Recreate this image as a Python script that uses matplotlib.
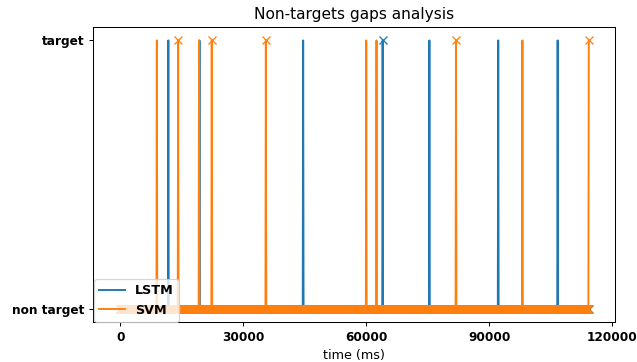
import numpy as np
import matplotlib
matplotlib.use("Agg")
import matplotlib.pyplot as plt

# sample timestamps (ms)
t_start, t_end, t_step = 0, 114300, 100

series_names = ["LSTM", "SVM"]
series_colors = ["#1f77b4", "#ff7f0e"]

# predicted target times (ms)
lstm_pred = [11700, 19350, 44600, 64050, 75400, 92250, 106750]
svm_pred = [8950, 14100, 19250, 22350, 35550, 60050, 62500, 81900, 98150, 114300]
# true target times (ms)
lstm_true = [64050]
svm_true = [14100, 22350, 35550, 81900, 114300]

ytick_labels = ["non target", "target"]
xticks = [0, 30000, 60000, 90000, 120000]

t = np.arange(t_start, t_end + t_step, t_step)

def to_signal(times):
    s = np.zeros_like(t, dtype=float)
    for v in times:
        s[np.argmin(np.abs(t - v))] = 1
    return s

DPI = 92
fig = plt.figure(figsize=(637 / DPI, 362 / DPI), dpi=DPI)
ax = fig.add_axes([0.1465, 0.1097, 0.819, 0.8157])

for name, col, pred, true in [("LSTM", series_colors[0], lstm_pred, lstm_true),
                              ("SVM", series_colors[1], svm_pred, svm_true)]:
    ax.plot(t, to_signal(pred), color=col, label=name, lw=1.5)
    ax.plot(t, to_signal(true), 'x', color=col, ms=6)

ax.set_xlim(-6600, 120700)
ax.set_yticks([0, 1])
ax.set_yticklabels(ytick_labels, fontweight='bold', fontsize=9.5)
ax.set_xticks(xticks)
ax.set_xticklabels([str(v) for v in xticks], fontweight='bold', fontsize=9.5)
ax.set_xlabel("time (ms)", fontsize=10)
ax.set_title("Non-targets gaps analysis", fontsize=12)
ax.legend(loc='lower left', prop={'weight': 'bold', 'size': 10}, borderaxespad=0.05)

fig.savefig("out.png", dpi=DPI)
